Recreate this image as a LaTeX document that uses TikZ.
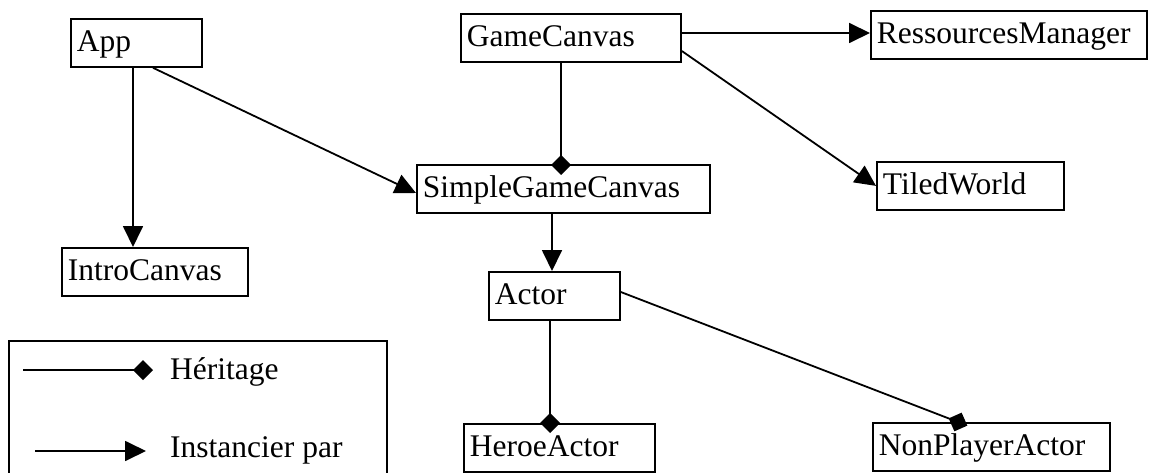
\documentclass[tikz,border=0pt]{standalone}
\usepackage{fontspec}
\setmainfont{Liberation Serif}
\usetikzlibrary{arrows.meta}

% left-aligned class name in a box of given width
\newcommand\clsname[2]{\makebox[#1][l]{#2}}

\tikzset{
  lbl/.style={font=\fontsize{31.5}{36}\selectfont},
  cls/.style={lbl, draw, line width=1.8pt, rectangle, anchor=north west,
    inner xsep=6pt, inner ysep=0pt, minimum height=48pt,
    text height=22pt, text depth=4.7pt, fill=white},
  wire/.style={line width=1.8pt},
  inst/.style={wire, -{Triangle[length=21pt,width=20pt]}},
  herit/.style={wire, -{Diamond[length=20pt,width=20pt]}},
}

\begin{document}
\begin{tikzpicture}[x=1pt, y=-1pt]
  \useasboundingbox (0,0) rectangle (1150,473);

  % classes
  \node[cls] (app)   at (70,18)   {\clsname{119pt}{App}};
  \node[cls] (gc)    at (460,13)  {\clsname{208pt}{GameCanvas}};
  \node[cls] (rm)    at (870,10)  {\clsname{264pt}{RessourcesManager}};
  \node[cls] (sgc)   at (416,164) {\clsname{281pt}{SimpleGameCanvas}};
  \node[cls] (tw)    at (876,161) {\clsname{175pt}{TiledWorld}};
  \node[cls] (intro) at (61,247)  {\clsname{174pt}{IntroCanvas}};
  \node[cls] (actor) at (488,271) {\clsname{119pt}{Actor}};
  \node[cls] (heroe) at (463,423) {\clsname{179pt}{HeroeActor}};
  \node[cls] (npa)   at (872,422) {\clsname{225pt}{NonPlayerActor}};

  % instantiation links
  \draw[inst] (app.south -| 133,0) -- (intro.north -| 133,0);
  \draw[inst] (app.south -| 153,0) -- (sgc.west |- 0,193);
  \draw[inst] (gc.east |- 0,33) -- (rm.west |- 0,33);
  \draw[inst] (gc.east |- 0,51) -- (tw.west);
  \draw[inst] (sgc.south -| 552,0) -- (actor.north -| 552,0);

  % inheritance links
  \draw[herit, shorten >=-11pt] (gc.south -| 561,0) -- (sgc.north -| 561,0);
  \draw[herit, shorten >=-10pt] (actor.south -| 550,0) -- (heroe.north -| 550,0);
  \draw[herit, shorten >=-10pt] (actor.east |- 0,292) -- (npa.north -| 958,0);

  % legend
  \node[draw, line width=1.8pt, anchor=north west, inner sep=0pt,
        minimum width=378pt, minimum height=150pt] (legend) at (8,340) {};
  \coordinate (hA) at (23,370);
  \coordinate (hB) at (153,370);
  \draw[herit] (hA) -- (hB);
  \node[lbl, anchor=base west, inner sep=0pt] (htxt) at (170,379) {Héritage};
  \coordinate (iA) at (35,451);
  \coordinate (iB) at (146,451);
  \draw[inst] (iA) -- (iB);
  \node[lbl, anchor=base west, inner sep=0pt] (itxt) at (170,457) {Instancier par};
\end{tikzpicture}
\end{document}
